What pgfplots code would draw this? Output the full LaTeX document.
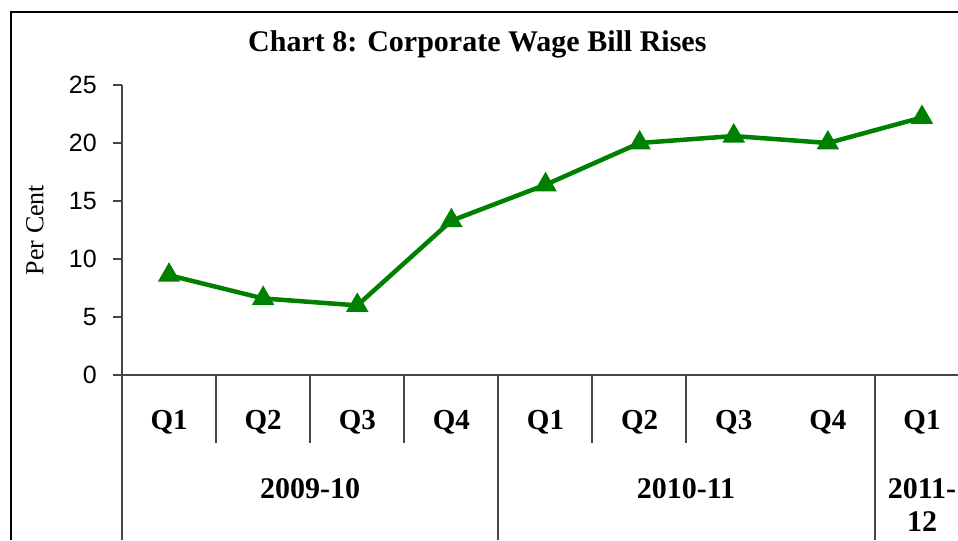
\documentclass[border=0pt]{standalone}
\usepackage{pgfplots}
\pgfplotsset{compat=1.18}
\usepackage{fontspec}
\setmainfont{Liberation Serif}
\newfontfamily\arial{Liberation Sans}
\definecolor{lgreen}{RGB}{0,128,0}
\definecolor{axgray}{RGB}{70,70,70}
\begin{document}
\begin{tikzpicture}[x=0.4pt,y=0.4pt]
\useasboundingbox (0,0) rectangle (958,540);
\begin{axis}[
  at={(48.8pt,66pt)}, anchor=south west,
  scale only axis, width=334.4pt, height=116pt,
  xmin=0.5, xmax=9.383, ymin=0, ymax=25,
  axis lines=left, axis line style={-, draw=axgray, line width=0.5pt},
  xtick={1,...,9},
  xticklabels={Q1,Q2,Q3,Q4,Q1,Q2,Q3,Q4,Q1},
  x tick style={draw=none},
  xticklabel style={anchor=center, yshift=-15.4pt, font=\bfseries\fontsize{11.6}{13}\selectfont},
  ytick={0,5,...,25},
  y tick style={draw=axgray, line width=0.5pt},
  major tick length=3.6pt, tick align=outside,
  yticklabel style={font=\arial\fontsize{10}{12}\selectfont, xshift=-3pt},
  /pgf/number format/assume math mode=true,
  ylabel={Per Cent},
  ylabel style={at={(rel axis cs:0,0.5)}, anchor=center, yshift=34.8pt, font=\fontsize{10.4}{12}\selectfont},
  title={Chart 8: Corporate Wage Bill Rises},
  title style={at={(rel axis cs:0.425,1)}, anchor=center, yshift=10.2pt, font=\bfseries\fontsize{12}{14}\selectfont},
  clip=false,
]
\addplot[lgreen, line width=1.8pt, mark=triangle*, mark size=3.4pt, mark options={solid}]
coordinates {(1,8.6) (2,6.6) (3,6.0) (4,13.3) (5,16.4) (6,20.0) (7,20.6) (8,20.0) (9,22.2)};
\end{axis}
% chart frame (top and left)
\draw[black, line width=1pt] (10,528) -- (958,528);
\draw[black, line width=0.9pt] (11,528) -- (11,0);
% category separators
\foreach \xx in {216,310,404,592,686}
  \draw[axgray, line width=0.5pt] (\xx,165) -- (\xx,97);
\foreach \xx in {122,498,875}
  \draw[axgray, line width=0.5pt] (\xx,165) -- (\xx,0);
% year labels
\node[font=\bfseries\fontsize{12}{13.2}\selectfont] at (310,51) {2009-10};
\node[font=\bfseries\fontsize{12}{13.2}\selectfont] at (686,51) {2010-11};
\node[font=\bfseries\fontsize{12}{13.2}\selectfont, align=center] at (922,35) {2011-\\12};
\end{tikzpicture}
\end{document}
